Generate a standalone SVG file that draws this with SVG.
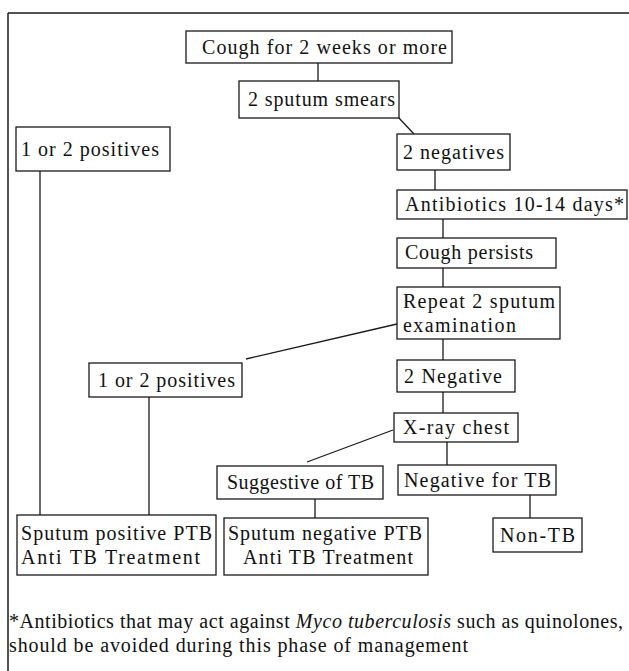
<svg xmlns="http://www.w3.org/2000/svg" width="629" height="671" viewBox="0 0 629 671">
<style>
.b{fill:#fff;stroke:#1a1a1a;stroke-width:1.3}
.t{font-family:"Liberation Serif","Times New Roman",serif;font-size:20px;fill:#111}
.c line{stroke:#1a1a1a;stroke-width:1.3}
.f{stroke:#1a1a1a;stroke-width:1.5}
</style>
<rect width="629" height="671" fill="#fff"/>
<line class="f" x1="8" y1="13" x2="629" y2="13"/>
<line class="f" x1="8" y1="13" x2="8" y2="671"/>
<g class="c" id="connectors">
<line x1="318" y1="63" x2="318" y2="81"/>
<line x1="398" y1="117" x2="414" y2="134"/>
<line x1="40" y1="171" x2="40" y2="515"/>
<line x1="435" y1="170" x2="435" y2="190"/>
<line x1="443" y1="219" x2="443" y2="238"/>
<line x1="443" y1="268" x2="443" y2="287"/>
<line x1="397" y1="324" x2="246" y2="359"/>
<line x1="443" y1="339" x2="443" y2="360"/>
<line x1="149" y1="397" x2="149" y2="515"/>
<line x1="443" y1="392" x2="443" y2="413"/>
<line x1="393" y1="430" x2="307" y2="462"/>
<line x1="447" y1="442" x2="447" y2="465"/>
<line x1="315" y1="499" x2="315" y2="518"/>
<line x1="530" y1="495" x2="530" y2="518"/>
</g>
<g id="n1"><rect class="b" x="186" y="31" width="266" height="32"/><text class="t" x="202" y="54" textLength="245">Cough for 2 weeks or more</text></g>
<g id="n2"><rect class="b" x="239" y="81" width="160" height="37"/><text class="t" x="248" y="106" textLength="147">2 sputum smears</text></g>
<g id="n3"><rect class="b" x="16" y="127" width="154" height="44"/><text class="t" x="21" y="156" textLength="138">1 or 2 positives</text></g>
<g id="n4"><rect class="b" x="397" y="134" width="113" height="36"/><text class="t" x="403" y="159" textLength="101">2 negatives</text></g>
<g id="n5"><rect class="b" x="397" y="190" width="230" height="29"/><text class="t" x="405" y="211" textLength="219">Antibiotics 10-14 days*</text></g>
<g id="n6"><rect class="b" x="397" y="238" width="159" height="30"/><text class="t" x="405" y="259" textLength="128">Cough persists</text></g>
<g id="n7"><rect class="b" x="397" y="287" width="163" height="52"/><text class="t" x="403" y="308" textLength="152">Repeat 2 sputum</text><text class="t" x="403" y="332" textLength="113">examination</text></g>
<g id="n8"><rect class="b" x="89" y="363" width="153" height="34"/><text class="t" x="98" y="387" textLength="137">1 or 2 positives</text></g>
<g id="n9"><rect class="b" x="397" y="360" width="118" height="32"/><text class="t" x="404" y="383" textLength="98">2 Negative</text></g>
<g id="n10"><rect class="b" x="394" y="413" width="124" height="29"/><text class="t" x="403" y="434" textLength="106">X-ray chest</text></g>
<g id="n11"><rect class="b" x="217" y="466" width="166" height="33"/><text class="t" x="227" y="489" textLength="147">Suggestive of TB</text></g>
<g id="n12"><rect class="b" x="398" y="465" width="158" height="30"/><text class="t" x="404" y="487" textLength="147">Negative for TB</text></g>
<g id="n13"><rect class="b" x="17" y="515" width="199" height="60"/><text class="t" x="21" y="540" textLength="191">Sputum positive PTB</text><text class="t" x="21" y="564" textLength="179">Anti TB Treatment</text></g>
<g id="n14"><rect class="b" x="224" y="518" width="204" height="57"/><text class="t" x="228" y="540" textLength="194">Sputum negative PTB</text><text class="t" x="243" y="564" textLength="170">Anti TB Treatment</text></g>
<g id="n15"><rect class="b" x="493" y="518" width="89" height="34"/><text class="t" x="500" y="542" textLength="75">Non-TB</text></g>
<g id="footnote">
<text class="t" x="9" y="628" textLength="614">*Antibiotics that may act against <tspan font-style="italic">Myco tuberculosis</tspan> such as quinolones,</text>
<text class="t" x="9" y="652" textLength="459">should be avoided during this phase of management</text>
</g>
</svg>
